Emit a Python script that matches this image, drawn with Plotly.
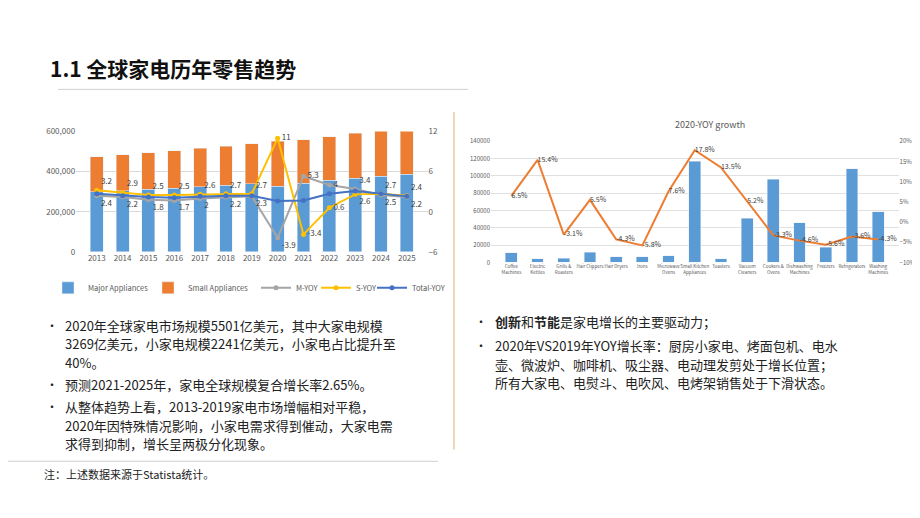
import plotly.graph_objects as go

years = [str(y) for y in range(2013, 2026)]
major = [300, 306, 312, 318, 324, 332, 340, 327, 342, 358, 368, 378, 387]
total = [474, 484, 494, 505, 517, 528, 540, 551, 560, 574, 592, 605, 605]
small = [t - m for t, m in zip(total, major)]
major_k = [v * 1000 for v in major]
small_k = [v * 1000 for v in small]
m_yoy = [2.4, 2.2, 1.8, 1.7, 2, 2.2, 2.3, -3.9, 5.3, 4, 3.4, 2.5, 2.2]
s_yoy = [3.2, 2.9, 2.5, 2.5, 2.6, 2.7, 2.7, 11, -3.4, 0.6, 2.6, 2.7, 2.4]
t_yoy = [2.7, 2.4, 2.2, 2.1, 2.3, 2.4, 2.4, 1.6, 1.7, 2.7, 3.1, 2.7, 2.3]
m_pos = ["bottom right"] * 8 + ["middle right", "middle right", "top right", "bottom right", "bottom right"]
s_pos = ["top right"] * 7 + ["middle right", "middle right", "middle right", "bottom right", "top right", "top right"]

cats = ["Coffee<br>Machines", "Electric<br>Kettles", "Grills &<br>Roasters", "Hair Clippers", "Hair Dryers",
        "Irons", "Microwave<br>Ovens", "Small Kitchen<br>Appliances", "Toasters", "Vacuum<br>Cleaners",
        "Cookers &<br>Ovens", "Dishwashing<br>Machines", "Freezers", "Refrigerators", "Washing<br>Machines"]
sales20 = [11000, 4000, 5000, 12000, 6500, 6500, 8000, 117000, 4000, 51000, 96000, 46000, 17500, 108500, 58500]
yoy20 = [6.5, 15.4, -3.1, 5.5, -4.3, -5.8, 7.6, 17.8, 13.5, 5.2, -3.3, -4.6, -5.6, -3.6, -4.3]

BLUE = "#5b9bd5"; ORANGE = "#ed7d31"; GRAY = "#a5a5a5"; YEL = "#ffc000"; DBLUE = "#4472c4"
F = "Noto Sans CJK SC"
fig = go.Figure()
fig.add_bar(x=years, y=major_k, name="Major Appliances", marker_color=BLUE, width=0.5, xaxis="x", yaxis="y", legend="legend")
fig.add_bar(x=years, y=small_k, name="Small Appliances", marker_color=ORANGE, width=0.5, xaxis="x", yaxis="y", legend="legend2")
fig.add_scatter(x=years, y=m_yoy, name="M-YOY", mode="lines+markers+text", text=[str(v) for v in m_yoy],
                textposition=m_pos, textfont=dict(size=8, color="#404040"), cliponaxis=False, legend="legend3",
                line=dict(color=GRAY, width=2), marker=dict(size=5), xaxis="x", yaxis="y2")
fig.add_scatter(x=years, y=s_yoy, name="S-YOY", mode="lines+markers+text", text=[str(v) for v in s_yoy],
                textposition=s_pos, textfont=dict(size=8, color="#404040"), cliponaxis=False, legend="legend4",
                line=dict(color=YEL, width=2), marker=dict(size=5), xaxis="x", yaxis="y2")
fig.add_scatter(x=years, y=t_yoy, name="Total-YOY", mode="lines+markers", legend="legend5",
                line=dict(color=DBLUE, width=2), marker=dict(size=5), xaxis="x", yaxis="y2")

fig.add_bar(x=cats, y=sales20, marker_color=BLUE, width=0.45, showlegend=False, xaxis="x3", yaxis="y3")
fig.add_scatter(x=cats, y=yoy20, mode="lines+text", text=[f"{v}%" for v in yoy20], textposition="middle right",
                textfont=dict(size=7, color="#404040"), line=dict(color=ORANGE, width=2), cliponaxis=False,
                showlegend=False, xaxis="x3", yaxis="y4")

ax = dict(tickfont=dict(size=8, color="#595959", family=F), showgrid=False, zeroline=False)
def leg(px):
    return dict(orientation="h", x=px/920, y=1 - 265/518, xanchor="left", yanchor="top",
                font=dict(size=7.5, color="#595959"), itemwidth=30, bgcolor="rgba(0,0,0,0)")
fig.update_layout(
    width=920, height=518, margin=dict(l=0, r=0, t=0, b=0), paper_bgcolor="white", plot_bgcolor="white",
    barmode="stack", font=dict(family=F),
    xaxis=dict(domain=[0.074, 0.456], anchor="y", showline=False, **ax),
    yaxis=dict(domain=[0.531, 0.768], range=[0, 600000], dtick=200000, tickformat=",", showgrid=True,
               gridcolor="#d9d9d9", **{k: v for k, v in ax.items() if k != "showgrid"}),
    yaxis2=dict(overlaying="y", side="right", range=[-6, 12], dtick=6, anchor="x", **ax),
    xaxis3=dict(domain=[0.525, 0.968], anchor="y3", tickangle=0, **{**ax, "tickfont": dict(size=4.5, color="#595959", family=F)}),
    yaxis3=dict(domain=[0.51, 0.749], range=[0, 140000], dtick=20000, tickformat="d", showgrid=True, gridcolor="#e0e0e0",
                anchor="x3", tickfont=dict(size=6, color="#595959", family=F), zeroline=False),
    yaxis4=dict(overlaying="y3", side="right", range=[-10, 20], dtick=5, ticksuffix="%", anchor="x3",
                tickfont=dict(size=6, color="#595959", family=F), showgrid=False, zeroline=False),
    legend=leg(40), legend2=leg(140), legend3=leg(248), legend4=leg(308), legend5=leg(364),
    shapes=[
        dict(type="line", xref="paper", yref="paper", x0=50/920, x1=460/920, y0=1-77/518, y1=1-77/518,
             line=dict(color="#d0d0d0", width=1)),
        dict(type="line", xref="paper", yref="paper", x0=446/920, x1=446/920, y0=1-100/518, y1=1-445/518,
             line=dict(color="#e8c9a0", width=1.5)),
        dict(type="line", xref="paper", yref="paper", x0=0, x1=430/920, y0=1-457/518, y1=1-457/518,
             line=dict(color="#d0d0d0", width=1)),
    ],
)

ann = []
def t(x, y, s, size=13, color="#222", bold=False):
    ann.append(dict(x=x/920, y=1-y/518, xref="paper", yref="paper", text=f"<b>{s}</b>" if bold else s,
                    showarrow=False, xanchor="left", yanchor="middle", font=dict(size=size, color=color, family=F)))
t(40, 55, "1.1 全球家电历年零售趋势", size=21, color="#111", bold=True)
t(665, 113, "2020-YOY growth", size=9, color="#595959")
left = [(318, "2020年全球家电市场规模5501亿美元，其中大家电规模", True),
        (337, "3269亿美元，小家电规模2241亿美元，小家电占比提升至", False),
        (356, "40%。", False),
        (379, "预测2021-2025年，家电全球规模复合增长率2.65%。", True),
        (401, "从整体趋势上看，2013-2019家电市场增幅相对平稳，", True),
        (420, "2020年因特殊情况影响，小家电需求得到催动，大家电需", False),
        (439, "求得到抑制，增长呈两极分化现象。", False)]
for y, s, b in left:
    if b:
        t(36, y, "•", size=12)
    t(55, y, s, size=13)
right = [(314, "<b>创新</b>和<b>节能</b>是家电增长的主要驱动力；", True),
         (339, "2020年VS2019年YOY增长率：厨房小家电、烤面包机、电水", True),
         (358, "壶、微波炉、咖啡机、吸尘器、电动理发剪处于增长位置；", False),
         (377, "所有大家电、电熨斗、电吹风、电烤架销售处于下滑状态。", False)]
for y, s, b in right:
    if b:
        t(465, y, "•", size=12)
    t(485, y, s, size=13)
t(34, 470, "注：上述数据来源于Statista统计。", size=11)
fig.update_layout(annotations=ann)
fig.write_html("out.html")
